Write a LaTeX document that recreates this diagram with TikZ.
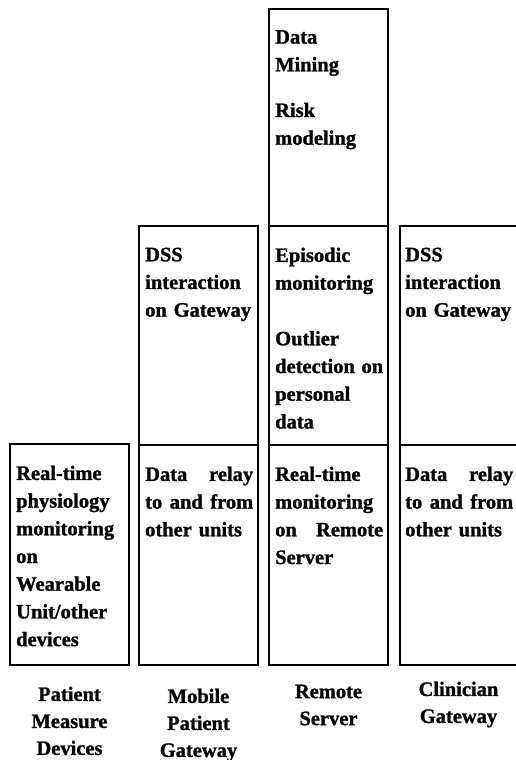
\documentclass[tikz,border=0pt]{standalone}
\usepackage{fontspec}
\setmainfont{Liberation Serif}[BoldFeatures={FakeBold=1.2}]
\usetikzlibrary{positioning}

\tikzset{
  cell/.style={draw, line width=2.2pt, outer sep=0pt, inner sep=0pt, minimum width=119pt},
  celltext/.style={text width=108pt, align=left, inner sep=0pt, font=\fontsize{20.5}{27.7}\selectfont\bfseries},
  colname/.style={align=center, inner sep=0pt, font=\fontsize{20.5}{27}\selectfont\bfseries}
}

\begin{document}
\begin{tikzpicture}[x=1pt, y=-1pt]
  \useasboundingbox (0,0) rectangle (515,760);

  % Patient measure devices
  \node[cell, anchor=south west, minimum height=221pt] (dev) at (10,665) {};
  \node[celltext, below right=21.5pt and 6pt of dev.north west] (devtxt)
    {Real-time\\physiology\\monitoring\\on\\Wearable\\Unit/other\\devices};
  \node[colname, below=21.5pt of dev.south] (devname) {Patient\\Measure\\Devices};

  % Mobile patient gateway
  \node[cell, anchor=south west, minimum height=220pt] (gwrelay) at (139,665) {};
  \node[cell, above=0pt of gwrelay, minimum height=219pt] (gwdss) {};
  \node[celltext, below right=21.5pt and 6pt of gwrelay.north west] (gwrelaytxt)
    {Data\hfill relay\\to\hfill and\hfill from\\other units};
  \node[celltext, below right=21.5pt and 6pt of gwdss.north west] (gwdsstxt)
    {DSS\\interaction\\on Gateway};
  \node[colname, below=23.5pt of gwrelay.south] (gwname) {Mobile\\Patient\\Gateway};

  % Remote server
  \node[cell, anchor=south west, minimum height=220pt] (srvrt) at (269,665) {};
  \node[cell, above=0pt of srvrt, minimum height=219pt] (srvepi) {};
  \node[cell, above=0pt of srvepi, minimum height=217pt] (srvmine) {};
  \node[celltext, below right=21.5pt and 6pt of srvrt.north west] (srvrttxt)
    {Real-time\\monitoring\\on\hfill Remote\\Server};
  \node[celltext, below right=21.5pt and 6pt of srvepi.north west] (srvepitxt)
    {Episodic\\monitoring\\[28pt]Outlier\\detection\hfill on\\personal\\data};
  \node[celltext, below right=21pt and 6pt of srvmine.north west] (srvminetxt)
    {Data\\Mining\\[18pt]Risk\\modeling};
  \node[colname, below=19.5pt of srvrt.south] (srvname) {Remote\\Server};

  % Clinician gateway
  \node[cell, anchor=south west, minimum height=220pt] (clrelay) at (400,665) {};
  \node[cell, above=0pt of clrelay, minimum height=219pt] (cldss) {};
  \node[celltext, below right=21.5pt and 5pt of clrelay.north west] (clrelaytxt)
    {Data\hfill relay\\to\hfill and\hfill from\\other units};
  \node[celltext, below right=21.5pt and 5pt of cldss.north west] (cldsstxt)
    {DSS\\interaction\\on Gateway};
  \node[colname, below=16.5pt of clrelay.south, xshift=-1pt] (clname) {Clinician\\Gateway};
\end{tikzpicture}
\end{document}
